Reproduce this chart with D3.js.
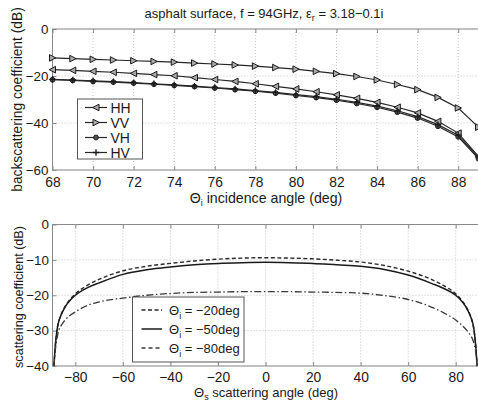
<!DOCTYPE html>
<html>
<head>
<meta charset="utf-8">
<script src="https://cdn.jsdelivr.net/npm/d3@7"></script>
<style>
  body { margin: 0; background: #fff; }
  svg { display: block; font-family: "Liberation Sans", Arial, sans-serif; }
</style>
</head>
<body>
<svg width="478" height="401"></svg>
<script>
// top panel: backscattering vs incidence angle
var incAngles = [68, 69, 70, 71, 72, 73, 74, 75, 76, 77, 78, 79, 80, 81, 82, 83, 84, 85, 86, 87, 88, 89];
var hhVals = [-17.3, -17.6, -18.0, -18.4, -18.9, -19.4, -19.9, -20.7, -21.5, -22.3, -23.3, -24.4, -25.5, -26.7, -28.0, -29.5, -31.2, -33.3, -35.7, -39.3, -44.3, -54.2];
var vvVals = [-12.3, -12.6, -12.9, -13.2, -13.5, -13.8, -14.1, -14.5, -14.9, -15.3, -15.8, -16.4, -17.1, -18.0, -19.0, -20.2, -21.7, -23.6, -25.8, -29.1, -33.6, -41.8];
var vhVals = [-21.6, -21.9, -22.3, -22.6, -23.0, -23.5, -24.0, -24.5, -25.1, -25.8, -26.5, -27.3, -28.3, -29.2, -30.3, -31.7, -33.3, -35.4, -37.9, -41.4, -45.9, -55.2];
var hvVals = [-21.4, -21.7, -22.1, -22.4, -22.8, -23.3, -23.8, -24.3, -24.9, -25.5, -26.2, -27.0, -27.9, -28.8, -29.9, -31.2, -32.8, -34.8, -37.3, -40.7, -45.2, -54.6];
var topSeries = ["HH", "VV", "VH", "HV"];
var topXTicks = [68, 70, 72, 74, 76, 78, 80, 82, 84, 86, 88];
var topYTicks = [0, -20, -40, -60];

// bottom panel: scattering vs scattering angle
var scatAngles = [-89, -88.5, -88, -87.5, -87, -86, -85, -84, -82, -80, -75, -70, -60, -50, -40, -30, -20, -10, 0, 10, 20, 30, 40, 50, 60, 70, 75, 80, 82, 84, 85, 86, 87, 87.5, 88, 88.5, 89];
var inc20 = [-40, -35, -31.5, -29, -27.5, -25.5, -24, -22.8, -21, -19.6, -17.2, -15.5, -13.1, -11.8, -11.0, -10.3, -9.8, -9.5, -9.4, -9.5, -9.7, -10.1, -10.6, -11.6, -13.2, -15.6, -17.3, -19.6, -21, -22.8, -24, -25.5, -27.5, -29, -31.5, -35, -40];
var inc50 = [-40, -35, -31.5, -29, -27.5, -25.6, -24.2, -23.0, -21.3, -20.0, -17.9, -16.5, -14.1, -12.8, -12.0, -11.4, -11.0, -10.8, -10.7, -10.8, -11.0, -11.4, -11.8, -12.7, -14.3, -16.7, -18.1, -20.0, -21.3, -23.0, -24.2, -25.6, -27.5, -29, -31.5, -35, -40];
var inc80 = [-40, -36, -33.5, -31.5, -30, -28.6, -27.6, -26.8, -25.6, -24.7, -22.9, -21.9, -20.8, -20.0, -19.5, -19.2, -19.1, -19.0, -19.0, -19.0, -19.1, -19.2, -19.4, -20.1, -21.2, -23.4, -25.0, -27.0, -28.1, -29.4, -30.2, -31.1, -32.3, -33.2, -34.5, -36.5, -40];
var botLabels = ["\u0398i = \u221220deg", "\u0398i = \u221250deg", "\u0398i = \u221280deg"];
var botXTicks = [-80, -60, -40, -20, 0, 20, 40, 60, 80];
var botYTicks = [0, -10, -20, -30, -40];

var svg = d3.select("svg");
var ink = "#1a1a1a";

var fmt = function(d) { return d3.format("d")(d); };

function panel(box, x, y, xt, yt, xpad, ypad) {
  var g = svg.append("g");
  // grid
  g.selectAll(".gx").data(xt).enter().append("line")
      .attr("x1", function(d) { return x(d); }).attr("x2", function(d) { return x(d); })
      .attr("y1", box.top).attr("y2", box.bottom)
      .attr("stroke", "#c4c4c4").attr("stroke-dasharray", "1,2");
  g.selectAll(".gy").data(yt).enter().append("line")
      .attr("y1", function(d) { return y(d); }).attr("y2", function(d) { return y(d); })
      .attr("x1", box.left).attr("x2", box.right)
      .attr("stroke", "#c4c4c4").attr("stroke-dasharray", "1,2");
  // frame
  g.append("rect")
      .attr("x", box.left).attr("y", box.top)
      .attr("width", box.right - box.left).attr("height", box.bottom - box.top)
      .attr("fill", "none").attr("stroke", "#8a8a8a").attr("stroke-width", 1);

  // axes with inward ticks
  g.append("g")
      .attr("transform", "translate(0," + box.bottom + ")")
      .call(d3.axisBottom(x).tickValues(xt).tickSizeInner(-4).tickSizeOuter(0).tickPadding(xpad).tickFormat(fmt))
      .call(function(a) {
        a.select(".domain").remove();
        a.selectAll("line").attr("stroke", "#8a8a8a");
        a.selectAll("text").attr("fill", ink).style("font-size", "13.8px");
      });
  g.append("g")
      .attr("transform", "translate(0," + box.top + ")")
      .call(d3.axisTop(x).tickValues(xt).tickSizeInner(-4).tickSizeOuter(0).tickFormat(""))
      .call(function(a) { a.select(".domain").remove(); a.selectAll("line").attr("stroke", "#8a8a8a"); });
  g.append("g")
      .attr("transform", "translate(" + box.left + ",0)")
      .call(d3.axisLeft(y).tickValues(yt).tickSizeInner(-4).tickSizeOuter(0).tickPadding(ypad).tickFormat(fmt))
      .call(function(a) {
        a.select(".domain").remove();
        a.selectAll("line").attr("stroke", "#8a8a8a");
        a.selectAll("text").attr("fill", ink).style("font-size", "13.4px");
      });
  return g;
}

// ---------- top panel ----------
var tb = {left: 52.5, right: 478.5, top: 29, bottom: 170};
var x1 = d3.scaleLinear().domain([68, 89]).range([tb.left, tb.right]);
var y1 = d3.scaleLinear().domain([-60, 0]).range([tb.bottom, tb.top]);
var gt = panel(tb, x1, y1, topXTicks, topYTicks, 7, 4);

var topData = [hhVals, vvVals, vhVals, hvVals];

function marker(sel, kind) {
  if (kind === "HH") {
    sel.append("path").attr("d", "M-3.3,0L3,-3.3L3,3.3Z").attr("fill", "#aaa").attr("stroke", ink).attr("stroke-width", 1);
  } else if (kind === "VV") {
    sel.append("path").attr("d", "M3.3,0L-3,-3.3L-3,3.3Z").attr("fill", "#aaa").attr("stroke", ink).attr("stroke-width", 1);
  } else if (kind === "VH") {
    sel.append("circle").attr("r", 2.4).attr("fill", "#555").attr("stroke", ink).attr("stroke-width", 1);
  } else {
    sel.append("path").attr("d", "M-3.2,0H3.2M0,-3.2V3.2").attr("stroke", ink).attr("stroke-width", 1.3);
  }
}

var line1 = d3.line()
    .x(function(d, i) { return x1(incAngles[i]); })
    .y(function(d) { return y1(d); });

topSeries.forEach(function(name, k) {
  var vals = topData[k];
  gt.append("path")
      .datum(vals)
      .attr("fill", "none")
      .attr("stroke", "#262626")
      .attr("stroke-width", 1.2)
      .attr("d", line1);
  gt.selectAll(".m" + name).data(vals).enter().append("g")
      .attr("transform", function(d, i) { return "translate(" + x1(incAngles[i]) + "," + y1(d) + ")"; })
      .each(function() { marker(d3.select(this), name); });
});

// top legend
var tl = gt.append("g");
tl.append("rect").attr("x", 77.5).attr("y", 99).attr("width", 65).attr("height", 60)
    .attr("fill", "#fff").attr("stroke", "#555");
topSeries.forEach(function(name, k) {
  var yy = 107.5 + k * 15;
  tl.append("line").attr("x1", 85).attr("x2", 107).attr("y1", yy).attr("y2", yy)
      .attr("stroke", "#262626").attr("stroke-width", 1.2);
  marker(tl.append("g").attr("transform", "translate(96," + yy + ")"), name);
  tl.append("text").attr("x", 110.5).attr("y", yy + 5).attr("fill", ink)
      .style("font-size", "14px").text(name);
});

// title
var title = svg.append("text").attr("x", 264).attr("y", 18).attr("text-anchor", "middle")
    .attr("fill", ink).style("font-size", "13px");
title.append("tspan").text("asphalt surface, f = 94GHz, \u03b5");
title.append("tspan").attr("dy", 3).style("font-size", "9px").text("r");
title.append("tspan").attr("dy", -3).text(" = 3.18\u22120.1i");

// top axis labels
var xl1 = svg.append("text").attr("x", 266).attr("y", 202.5).attr("text-anchor", "middle")
    .attr("fill", ink).style("font-size", "14.2px");
xl1.append("tspan").text("\u0398");
xl1.append("tspan").attr("dy", 3).style("font-size", "9px").text("i");
xl1.append("tspan").attr("dy", -3).text(" incidence angle (deg)");

svg.append("text").attr("transform", "translate(22,99.5) rotate(-90)")
    .attr("text-anchor", "middle").attr("fill", ink).style("font-size", "13.8px")
    .text("backscattering coefficient (dB)");

// ---------- bottom panel ----------
var bb = {left: 52.5, right: 479.5, top: 224.5, bottom: 366};
var x2 = d3.scaleLinear().domain([-89.6, 90]).range([bb.left, bb.right]);
var y2 = d3.scaleLinear().domain([-40, 0]).range([bb.bottom, bb.top]);
var gb = panel(bb, x2, y2, botXTicks, botYTicks, 6, 3.5);

var line2 = d3.line()
    .x(function(d, i) { return x2(scatAngles[i]); })
    .y(function(d) { return y2(d); })
    .curve(d3.curveMonotoneX);

var botData = [inc20, inc50, inc80];
var botDash = ["4,2.5", null, "7,2.5,1.5,2.5"];
var botColor = ["#2a2a2a", "#1a1a1a", "#3a3a3a"];
var botWidth = [1.4, 1.5, 1.3];

botData.forEach(function(vals, k) {
  gb.append("path")
      .datum(vals)
      .attr("fill", "none")
      .attr("stroke", botColor[k])
      .attr("stroke-width", botWidth[k])
      .attr("stroke-dasharray", botDash[k])
      .attr("d", line2);
});

// bottom legend
var bl = gb.append("g");
bl.append("rect").attr("x", 132.5).attr("y", 297).attr("width", 111.5).attr("height", 65)
    .attr("fill", "#fff").attr("stroke", "#555");
botLabels.forEach(function(lab, k) {
  var yy = 310 + k * 19;
  bl.append("line").attr("x1", 141.5).attr("x2", 162).attr("y1", yy).attr("y2", yy)
      .attr("stroke", botColor[k]).attr("stroke-width", botWidth[k])
      .attr("stroke-dasharray", k === 2 ? "4,3" : botDash[k]);
  var t = bl.append("text").attr("x", 169).attr("y", yy + 4.5).attr("fill", ink).style("font-size", "13px");
  t.append("tspan").text(lab.slice(0, 1));
  t.append("tspan").attr("dy", 4).style("font-size", "9px").text(lab.slice(1, 2));
  t.append("tspan").attr("dy", -4).text(lab.slice(2));
});

// bottom axis labels
var xl2 = svg.append("text").attr("x", 266).attr("y", 396.5).attr("text-anchor", "middle")
    .attr("fill", ink).style("font-size", "13px");
xl2.append("tspan").text("\u0398");
xl2.append("tspan").attr("dy", 3.5).style("font-size", "9px").text("s");
xl2.append("tspan").attr("dy", -3.5).text(" scattering angle (deg)");

svg.append("text").attr("transform", "translate(22.5,297) rotate(-90)")
    .attr("text-anchor", "middle").attr("fill", ink).style("font-size", "12.6px")
    .text("scattering coefficient (dB)");
</script>
</body>
</html>
